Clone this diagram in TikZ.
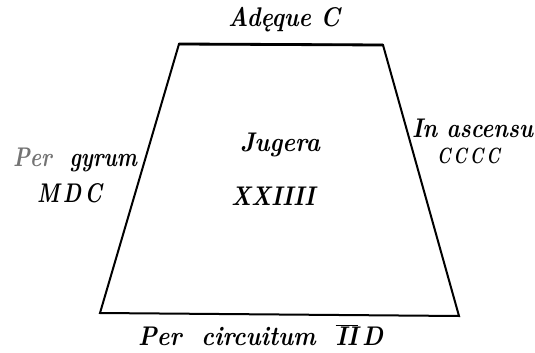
\documentclass[tikz,border=0pt]{standalone}
\usepackage{graphicx}
\tikzset{
  edge/.style={line width=2pt, line join=miter, black},
  lbl/.style={anchor=base west, inner sep=0pt, outer sep=0pt, font=\fontsize{27}{31}\selectfont\bfseries\itshape},
  lblsmall/.style={lbl, font=\fontsize{22}{26}\selectfont\bfseries\itshape},
}
\newcommand{\fitw}[2]{\resizebox{#1pt}{\height}{#2}}
\begin{document}
\begin{tikzpicture}[x=1pt,y=-1pt]
\useasboundingbox (0,0) rectangle (535,353);
\coordinate (tl) at (179,44);
\coordinate (tr) at (383,45);
\coordinate (br) at (459,316);
\coordinate (bl) at (100,313);
\draw[edge] (tl) -- (tr) -- (br) -- (bl) -- cycle;
\draw[line width=2.8pt] (tl) -- (tr);
\node[lbl] (top) at (228,27) {\fitw{112}{Adęque C}};
\node[lbl] (jug) at (240,151) {\fitw{80}{Jugera}};
\node[lbl] (num) at (231,205) {\fitw{84}{XXIIII}};
\node[lbl] (left1) at (13,166) {\fitw{124}{\textcolor{black!55}{Per}\ \ gyrum}};
\node[lbl] (left2) at (37,202) {\fitw{65}{M\,D\,C}};
\node[lbl] (right1) at (412,137) {\fitw{121}{In ascensu}};
\node[lblsmall] (right2) at (437,163) {\fitw{63}{C\,C\,C\,C}};
\node[lbl] (bottom) at (138,345) {\fitw{245}{Per\ \ circuitum\ \ $\overline{\hbox{\bfseries\itshape II}}$\,D}};
\end{tikzpicture}
\end{document}
